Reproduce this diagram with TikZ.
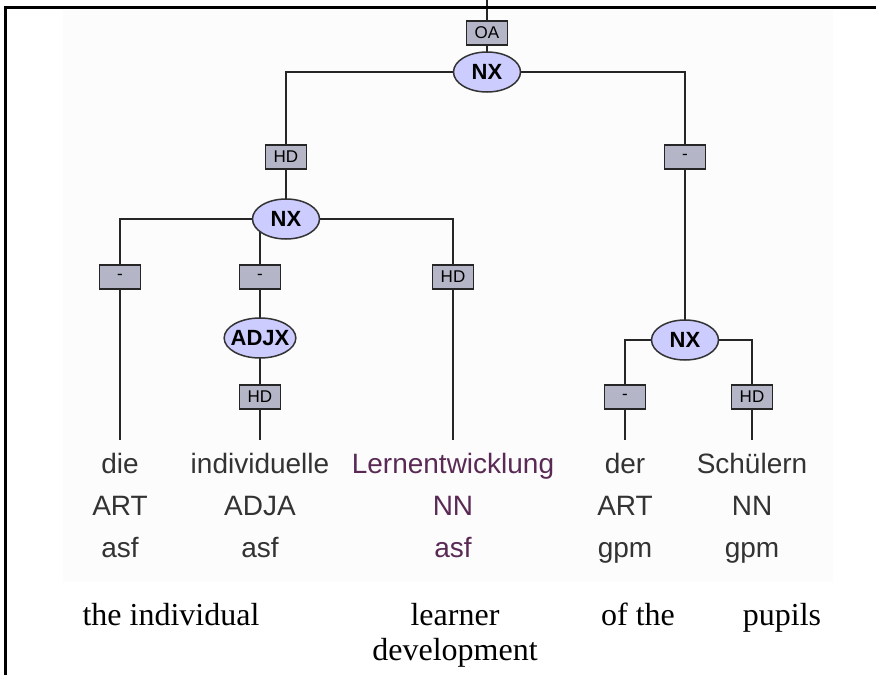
\documentclass[tikz,border=0pt]{standalone}
\usepackage{fontspec}
\setmainfont{Liberation Serif}
\setsansfont{Liberation Sans}
\usetikzlibrary{shapes.geometric,backgrounds}
\definecolor{catfill}{HTML}{CCCCFF}
\definecolor{lblfill}{HTML}{B4B6C8}
\definecolor{treetext}{HTML}{333333}
\definecolor{headtext}{HTML}{5A2A55}
\definecolor{panel}{HTML}{FCFCFC}
\begin{document}
\begin{tikzpicture}[x=1pt, y=-1pt,
    mycat/.style={ellipse, draw=black!80, fill=catfill, line width=1.5pt, minimum width=67pt, minimum height=40pt, inner xsep=-4pt, inner ysep=0pt, font=\fontsize{22}{22}\sffamily\bfseries},
    mylabel/.style={draw=black!85, fill=lblfill, line width=1.5pt, minimum width=41pt, minimum height=24pt, inner sep=0pt, font=\fontsize{17}{17}\sffamily},
    myword/.style={anchor=base, inner sep=0pt, font=\fontsize{28}{28}\sffamily},
    mygloss/.style={anchor=base, inner sep=0pt, font=\fontsize{32}{35}\selectfont},
    myedge/.style={draw=black!85, line width=1.6pt}]
    \useasboundingbox (0,0) rectangle (876,675);
    % frame
    \draw[line width=3pt] (5.5,675) -- (5.5,7.5) -- (876,7.5);
    % tree nodes
    \coordinate (top) at (487,0);
    \node[mylabel] (oa) at (487,33) {OA};
    \node[mycat] (nx0) at (487,72) {NX};
    \node[mylabel] (hd1) at (286,157) {HD};
    \node[mylabel] (dash1) at (685,157) {-};
    \node[mycat] (nx1) at (286,219) {NX};
    \node[mylabel] (dash2) at (120,277) {-};
    \node[mylabel] (dash3) at (260,277) {-};
    \node[mylabel] (hd2) at (453,277) {HD};
    \node[mycat] (adjx) at (260,338) {ADJX};
    \node[mylabel] (hd3) at (260,397) {HD};
    \node[mycat] (nx2) at (685,340) {NX};
    \node[mylabel] (dash4) at (625,397) {-};
    \node[mylabel] (hd4) at (752,397) {HD};
    % leaves
    \foreach \i/\x/\w/\pos/\morph/\col in {1/120/die/ART/asf/treetext,2/260/individuelle/ADJA/asf/treetext,3/453/Lernentwicklung/NN/asf/headtext,4/625/der/ART/gpm/treetext,5/752/Schülern/NN/gpm/treetext}{
      \node[myword, text=\col] (w\i) at (\x,473) {\w};
      \node[myword, text=\col] (p\i) at (\x,515) {\pos};
      \node[myword, text=\col] (m\i) at (\x,557) {\morph};
      \coordinate (s\i) at (\x,440);
    }
    % glosses
    \node[mygloss] (g1) at (171,625) {the individual};
    \node[mygloss] (g2) at (455,625) {learner};
    \node[mygloss] (g3) at (455,660) {development};
    \node[mygloss] (g4) at (638,625) {of the};
    \node[mygloss] (g5) at (782,625) {pupils};
    \begin{scope}[on background layer]
      \fill[panel] (63,10) rectangle (833,582);
      \draw[myedge] (top) -- (oa.center) -- (nx0.center);
      \draw[myedge] (nx0.center) -| (hd1.center);
      \draw[myedge] (nx0.center) -| (dash1.center);
      \draw[myedge] (hd1.center) -- (nx1.center);
      \draw[myedge] (dash1.center) -- (nx2.center);
      \draw[myedge] (nx1.center) -| (dash2.center);
      \draw[myedge] (nx1.center -| dash3.center) -- (dash3.center);
      \draw[myedge] (nx1.center) -| (hd2.center);
      \draw[myedge] (dash3.center) -- (adjx.center) -- (hd3.center);
      \draw[myedge] (nx2.center) -| (dash4.center);
      \draw[myedge] (nx2.center) -| (hd4.center);
      \draw[myedge] (dash2.center) -- (s1);
      \draw[myedge] (hd3.center) -- (s2);
      \draw[myedge] (hd2.center) -- (s3);
      \draw[myedge] (dash4.center) -- (s4);
      \draw[myedge] (hd4.center) -- (s5);
    \end{scope}
\end{tikzpicture}
\end{document}
